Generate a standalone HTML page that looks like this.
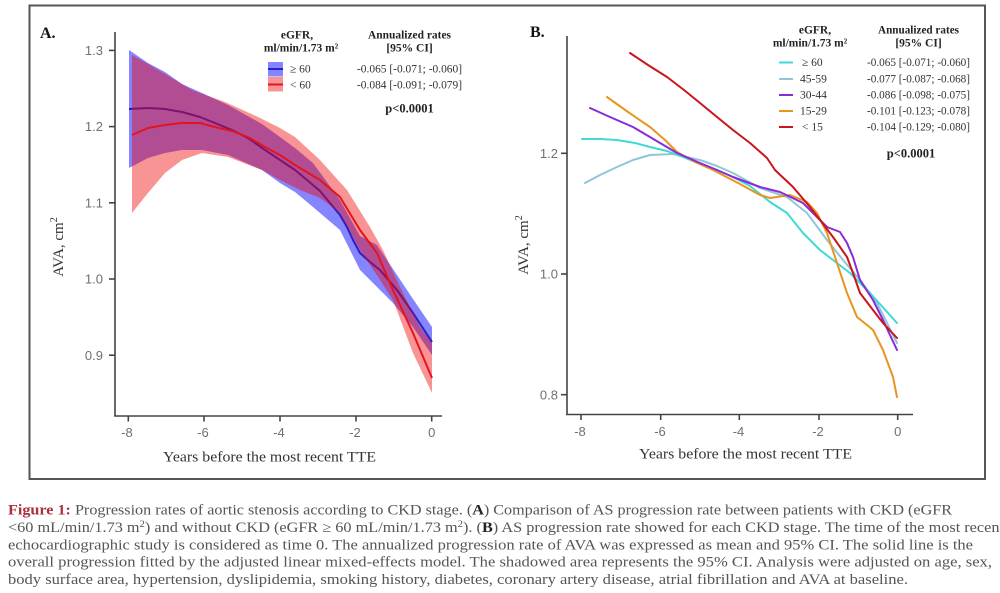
<!DOCTYPE html>
<html><head><meta charset="utf-8"><style>
html,body{margin:0;padding:0;background:#fff;width:1000px;height:593px;overflow:hidden}
svg{display:block}
.serif{font-family:"Liberation Serif","DejaVu Serif",serif}
.sans{font-family:"Liberation Sans","DejaVu Sans",sans-serif}
</style></head><body>
<svg width="1000" height="593" viewBox="0 0 1000 593" xmlns="http://www.w3.org/2000/svg">
<rect x="0" y="0" width="1000" height="593" fill="#fff"/>
<rect x="29.5" y="5.5" width="955.5" height="473.5" fill="none" stroke="#555" stroke-width="2"/>

<!-- ============ PANEL A ============ -->
<text x="40" y="38" class="serif" font-size="16" font-weight="bold" fill="#111">A.</text>

<!-- blue band + line -->
<polygon fill="rgb(0,0,255)" fill-opacity="0.48" points="129,50 148,63 165,72 182,84 202,93 228,105 262,124 280,137 295,148 313,163 340,200 360,236 377,245 393,269 413,299 432,327 432,355 413,327 393,303 377,287 360,270 340,230 313,207 295,192 280,183 262,170 228,155 202,150 182,150 165,153 148,158 129,168"/>
<polyline fill="none" stroke="#2a1fc6" stroke-width="2" stroke-linejoin="round" points="129,109 148,108 165,109 182,112 200,117 215,123 232,130 248,138 265,150 280,160 295,170 307,180 320,191 330,203 340,215 347,227 353,240 360,253 370,262 380,270 397,290 413,313 432,342"/>
<!-- red band + line -->
<polygon fill="rgb(240,0,0)" fill-opacity="0.42" points="132,55 148,64 165,74 192,90 225,102 258,117 280,128 295,137 320,160 347,190 370,227 383,250 400,287 420,327 432,343 432,393 413,353 393,300 380,280 360,250 340,213 320,198 300,190 280,180 262,170 228,157 202,153 182,160 165,173 148,193 132,213"/>
<polyline fill="none" stroke="#e3141e" stroke-width="2" stroke-linejoin="round" points="132,135 148,128 165,125 182,123 200,123 215,127 232,131 248,137 265,147 280,155 295,165 320,180 340,197 360,230 377,253 393,290 413,333 432,378"/>

<!-- axes A -->
<g stroke="#444" stroke-width="1.6" fill="none">
<line x1="115" y1="32" x2="115" y2="416.5"/>
<line x1="114.2" y1="416" x2="442" y2="416"/>
<line x1="109" y1="50.4" x2="115" y2="50.4"/>
<line x1="109" y1="126.6" x2="115" y2="126.6"/>
<line x1="109" y1="202.8" x2="115" y2="202.8"/>
<line x1="109" y1="279" x2="115" y2="279"/>
<line x1="109" y1="355.2" x2="115" y2="355.2"/>
<line x1="128.3" y1="416" x2="128.3" y2="421.5"/>
<line x1="204" y1="416" x2="204" y2="421.5"/>
<line x1="280" y1="416" x2="280" y2="421.5"/>
<line x1="356" y1="416" x2="356" y2="421.5"/>
<line x1="431.7" y1="416" x2="431.7" y2="421.5"/>
</g>
<g class="sans" font-size="13" fill="#707070" text-anchor="end">
<text x="103" y="55">1.3</text>
<text x="103" y="131.2">1.2</text>
<text x="103" y="207.4">1.1</text>
<text x="103" y="283.6">1.0</text>
<text x="103" y="359.8">0.9</text>
</g>
<g class="sans" font-size="13" fill="#707070" text-anchor="middle">
<text x="127" y="437">-8</text>
<text x="203" y="437">-6</text>
<text x="279" y="437">-4</text>
<text x="355" y="437">-2</text>
<text x="431.7" y="437">0</text>
</g>
<text x="163" y="461.5" class="serif" font-size="15" fill="#333" textLength="213" lengthAdjust="spacingAndGlyphs">Years before the most recent TTE</text>
<text transform="translate(63,247) rotate(-90)" class="serif" font-size="15" fill="#333" text-anchor="middle">AVA, cm<tspan font-size="10" dy="-6">2</tspan></text>

<!-- legend A -->
<g class="serif" font-size="11.5" font-weight="bold" fill="#222" text-anchor="middle">
<text x="297" y="38.5">eGFR,</text>
<text x="301" y="51.7">ml/min/1.73 m²</text>
<text x="409.5" y="38.3" textLength="83" lengthAdjust="spacingAndGlyphs">Annualized rates</text>
<text x="409.5" y="51.7">[95% CI]</text>
<text x="409.5" y="112.7" font-size="12.5">p&lt;0.0001</text>
</g>
<rect x="268" y="62" width="15" height="14.5" fill="rgb(0,0,255)" fill-opacity="0.48"/>
<line x1="268" y1="69" x2="283" y2="69" stroke="#2a1fc6" stroke-width="2"/>
<rect x="268" y="77" width="15" height="14.5" fill="rgb(240,0,0)" fill-opacity="0.42"/>
<line x1="268" y1="84.5" x2="283" y2="84.5" stroke="#e3141e" stroke-width="2"/>
<g class="serif" font-size="11.5" fill="#333">
<text x="290" y="72.7">≥ 60</text>
<text x="290" y="88.3">&lt; 60</text>
<text x="357" y="72.7" textLength="105" lengthAdjust="spacingAndGlyphs">-0.065 [-0.071; -0.060]</text>
<text x="357" y="88.3" textLength="105" lengthAdjust="spacingAndGlyphs">-0.084 [-0.091; -0.079]</text>
</g>

<!-- ============ PANEL B ============ -->
<text x="530" y="37" class="serif" font-size="16" font-weight="bold" fill="#111">B.</text>

<g fill="none" stroke-width="2" stroke-linejoin="round" stroke-linecap="round">
<polyline stroke="#8fc6d8" points="585,183 600,175 617,167 633,160 650,155 673,154 700,160 717,166 733,173 760,188 787,197 807,213 827,240 843,260 860,280 877,303 897,343"/>
<polyline stroke="#3fdad6" points="582,139 600,139 617,140 635,143 650,147 667,151 683,157 700,164 717,170 733,177 750,186 770,202 787,213 803,233 820,250 833,260 850,273 870,293 897,323"/>
<polyline stroke="#e8951f" points="607,97 628,112 650,127 665,140 677,152 695,162 713,170 740,184 760,195 770,198 790,195 807,202 817,213 827,233 837,263 847,293 857,317 867,325 873,330 883,350 893,377 897,397"/>
<polyline stroke="#8a2ad8" points="590,108 610,117 633,127 655,140 677,153 700,163 717,170 733,177 760,187 780,192 803,203 827,227 840,232 847,243 853,257 860,280 873,300 883,320 897,350"/>
<polyline stroke="#c8161c" points="630,53 648,65 667,77 684,90 700,103 717,117 733,130 750,143 767,158 775,170 793,187 810,207 820,220 833,237 847,257 853,273 860,293 873,310 883,323 897,338"/>
</g>

<!-- axes B -->
<g stroke="#444" stroke-width="1.6" fill="none">
<line x1="567" y1="36" x2="567" y2="415"/>
<line x1="566.2" y1="414.5" x2="913" y2="414.5"/>
<line x1="561" y1="153.3" x2="567" y2="153.3"/>
<line x1="561" y1="274" x2="567" y2="274"/>
<line x1="561" y1="394.7" x2="567" y2="394.7"/>
<line x1="581" y1="414.5" x2="581" y2="420"/>
<line x1="660.7" y1="414.5" x2="660.7" y2="420"/>
<line x1="739.3" y1="414.5" x2="739.3" y2="420"/>
<line x1="819" y1="414.5" x2="819" y2="420"/>
<line x1="897.7" y1="414.5" x2="897.7" y2="420"/>
</g>
<g class="sans" font-size="13" fill="#707070" text-anchor="end">
<text x="558" y="158">1.2</text>
<text x="558" y="278.6">1.0</text>
<text x="558" y="399.3">0.8</text>
</g>
<g class="sans" font-size="13" fill="#707070" text-anchor="middle">
<text x="580" y="436">-8</text>
<text x="660" y="436">-6</text>
<text x="738.5" y="436">-4</text>
<text x="818" y="436">-2</text>
<text x="897.7" y="436">0</text>
</g>
<text x="639" y="458.5" class="serif" font-size="15" fill="#333" textLength="213" lengthAdjust="spacingAndGlyphs">Years before the most recent TTE</text>
<text transform="translate(528,245) rotate(-90)" class="serif" font-size="15" fill="#333" text-anchor="middle">AVA, cm<tspan font-size="10" dy="-6">2</tspan></text>

<!-- legend B -->
<g class="serif" font-size="11.5" font-weight="bold" fill="#222" text-anchor="middle">
<text x="815" y="33.3">eGFR,</text>
<text x="810" y="46.7">ml/min/1.73 m²</text>
<text x="918.5" y="33.3" textLength="81" lengthAdjust="spacingAndGlyphs">Annualized rates</text>
<text x="918.5" y="46.7">[95% CI]</text>
<text x="911" y="157.3" font-size="12.5">p&lt;0.0001</text>
</g>
<g stroke-width="2">
<line x1="779" y1="62.5" x2="793" y2="62.5" stroke="#3fdad6"/>
<line x1="779" y1="79" x2="793" y2="79" stroke="#8fc6d8"/>
<line x1="779" y1="95" x2="793" y2="95" stroke="#8a2ad8"/>
<line x1="779" y1="111" x2="793" y2="111" stroke="#e8951f"/>
<line x1="779" y1="127" x2="793" y2="127" stroke="#c8161c"/>
</g>
<g class="serif" font-size="11.5" fill="#333">
<text x="802" y="66">≥ 60</text>
<text x="800" y="82.7">45-59</text>
<text x="800" y="98.7">30-44</text>
<text x="800" y="114.3">15-29</text>
<text x="802" y="130.7">&lt; 15</text>
<text x="867" y="66" textLength="103" lengthAdjust="spacingAndGlyphs">-0.065 [-0.071; -0.060]</text>
<text x="867" y="82.7" textLength="103" lengthAdjust="spacingAndGlyphs">-0.077 [-0.087; -0.068]</text>
<text x="867" y="98.7" textLength="103" lengthAdjust="spacingAndGlyphs">-0.086 [-0.098; -0.075]</text>
<text x="867" y="114.3" textLength="103" lengthAdjust="spacingAndGlyphs">-0.101 [-0.123; -0.078]</text>
<text x="867" y="130.7" textLength="103" lengthAdjust="spacingAndGlyphs">-0.104 [-0.129; -0.080]</text>
</g>

<!-- ============ CAPTION ============ -->
<g class="serif" font-size="14.5" fill="#555">
<text x="8" y="514.5" textLength="944" lengthAdjust="spacingAndGlyphs"><tspan fill="#a8313d" font-weight="bold">Figure 1:</tspan> Progression rates of aortic stenosis according to CKD stage. (<tspan font-weight="bold" fill="#222">A</tspan>) Comparison of AS progression rate between patients with CKD (eGFR</text>
<text x="8" y="532" textLength="996" lengthAdjust="spacingAndGlyphs">&lt;60 mL/min/1.73 m<tspan font-size="9.5" dy="-5">2</tspan><tspan dy="5">) and without CKD (eGFR ≥ 60 mL/min/1.73 m</tspan><tspan font-size="9.5" dy="-5">2</tspan><tspan dy="5">). (</tspan><tspan font-weight="bold" fill="#222">B</tspan>) AS progression rate showed for each CKD stage. The time of the most recent</text>
<text x="8" y="549.3" textLength="965" lengthAdjust="spacingAndGlyphs">echocardiographic study is considered as time 0. The annualized progression rate of AVA was expressed as mean and 95% CI. The solid line is the</text>
<text x="8" y="566.7" textLength="984" lengthAdjust="spacingAndGlyphs">overall progression fitted by the adjusted linear mixed-effects model. The shadowed area represents the 95% CI. Analysis were adjusted on age, sex,</text>
<text x="8" y="584" textLength="900" lengthAdjust="spacingAndGlyphs">body surface area, hypertension, dyslipidemia, smoking history, diabetes, coronary artery disease, atrial fibrillation and AVA at baseline.</text>
</g>
</svg>
</body></html>
